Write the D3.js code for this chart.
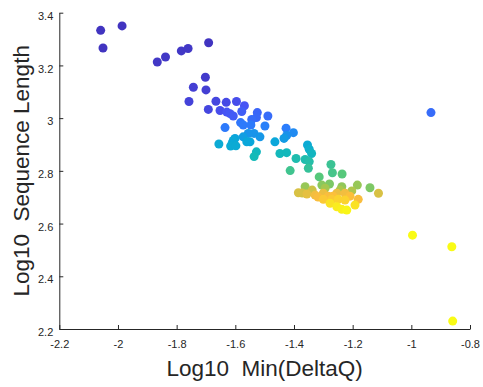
<!DOCTYPE html>
<html>
<head>
<meta charset="utf-8">
<script src="https://cdnjs.cloudflare.com/ajax/libs/d3/7.8.5/d3.min.js"></script>
<style>
  body { margin: 0; background: #fff; }
  svg { display: block; }
  text { font-family: "Liberation Sans", Arial, Helvetica, sans-serif; }
  .title { white-space: pre; }
</style>
</head>
<body>
<svg id="chart" width="483" height="387"></svg>
<script>
// log10 min(deltaQ), log10 sequence length, colour value (0..1 on the parula map)
const logDeltaQ = [
  -2.059, -1.986, -2.051, -1.866, -1.838, -1.784, -1.761, -1.691, -1.702, -1.743,
  -1.700, -1.758, -1.666, -1.692, -1.631, -1.596, -1.569, -1.652, -1.629, -1.618,
  -1.607, -1.578, -1.525, -1.528, -1.489, -1.544, -1.582, -1.573, -1.635, -1.547,
  -1.499, -1.536, -1.556, -1.573, -1.601, -1.607, -1.516, -1.550, -1.656, -1.616,
  -1.598, -1.561, -1.528, -1.536, -1.465, -1.427, -1.402, -1.425, -1.434, -1.448,
  -1.425, -1.393, -1.354, -1.348, -1.340, -1.362, -1.348, -1.351, -1.413, -1.274,
  -1.269, -1.236, -1.314, -1.305, -1.279, -1.294, -1.362, -1.237, -1.203, -1.184,
  -1.141, -1.112, -1.385, -1.356, -1.328, -1.300, -1.283, -1.254, -1.226, -1.209,
  -1.300, -1.271, -1.249, -1.226, -1.181, -1.192, -1.277, -1.254, -1.237, -1.220,
  -0.933, -0.996, -0.862, -0.859, -1.611, -1.338, -1.318, -1.243, -1.267, -1.372
];
const logSeqLength = [
  3.333, 3.350, 3.266, 3.213, 3.232, 3.255, 3.264, 3.286, 3.155, 3.117,
  3.107, 3.063, 3.064, 3.033, 3.060, 3.063, 3.047, 3.029, 3.023, 3.017,
  3.008, 3.025, 3.021, 3.002, 3.008, 2.995, 2.983, 2.974, 2.964, 2.974,
  2.970, 2.942, 2.942, 2.929, 2.923, 2.915, 2.929, 2.910, 2.902, 2.894,
  2.895, 2.910, 2.872, 2.854, 2.910, 2.962, 2.945, 2.934, 2.923, 2.866,
  2.869, 2.847, 2.898, 2.882, 2.866, 2.843, 2.835, 2.810, 2.801, 2.824,
  2.793, 2.788, 2.777, 2.746, 2.750, 2.734, 2.740, 2.740, 2.724, 2.746,
  2.736, 2.715, 2.717, 2.712, 2.708, 2.715, 2.704, 2.715, 2.715, 2.704,
  2.692, 2.692, 2.692, 2.689, 2.692, 2.670, 2.677, 2.664, 2.654, 2.651,
  3.021, 2.556, 2.512, 2.230, 2.904, 2.727, 2.701, 2.727, 2.704, 2.716
];
const colourValue = [
  0.04, 0.04, 0.04, 0.05, 0.05, 0.05, 0.05, 0.04, 0.06, 0.07,
  0.07, 0.08, 0.09, 0.09, 0.10, 0.11, 0.13, 0.11, 0.13, 0.14,
  0.15, 0.16, 0.18, 0.19, 0.20, 0.20, 0.23, 0.24, 0.24, 0.24,
  0.26, 0.32, 0.32, 0.35, 0.37, 0.39, 0.33, 0.38, 0.40, 0.40,
  0.40, 0.38, 0.48, 0.50, 0.38, 0.25, 0.29, 0.31, 0.34, 0.49,
  0.49, 0.52, 0.40, 0.43, 0.47, 0.52, 0.53, 0.56, 0.58, 0.57,
  0.59, 0.62, 0.62, 0.70, 0.68, 0.74, 0.72, 0.71, 0.76, 0.72,
  0.68, 0.82, 0.82, 0.84, 0.86, 0.85, 0.87, 0.85, 0.86, 0.88,
  0.90, 0.90, 0.92, 0.92, 0.87, 0.95, 0.95, 0.97, 0.98, 0.99,
  0.20, 1.00, 1.00, 1.00, 0.39, 0.80, 0.87, 0.75, 0.88, 0.81
];

const xTicks = [-2.2, -2, -1.8, -1.6, -1.4, -1.2, -1, -0.8];
const xTickLabels = ["-2.2", "-2", "-1.8", "-1.6", "-1.4", "-1.2", "-1", "-0.8"];
const yTicks = [2.2, 2.4, 2.6, 2.8, 3, 3.2, 3.4];
const yTickLabels = ["2.2", "2.4", "2.6", "2.8", "3", "3.2", "3.4"];

const parulaStops = ["#3e26a8", "#4852f4", "#2b7dfc", "#0aa6db", "#14bab8",
                     "#59c978", "#abc74d", "#fcbd3d", "#f9fb15"];

const svg = d3.select("#chart");
const ink = "#262626";

const margin = { left: 59.3, right: 13, top: 12.7, bottom: 58 };
const width = 483, height = 387;

const x = d3.scaleLinear().domain([-2.2, -0.8]).range([margin.left, width - margin.right]);
const y = d3.scaleLinear().domain([2.2, 3.4]).range([height - margin.bottom, margin.top]);
const colour = d3.scaleLinear()
  .domain(parulaStops.map((d, i) => i / (parulaStops.length - 1)))
  .range(parulaStops)
  .interpolate(d3.interpolateRgb);

const points = logDeltaQ.map((d, i) => ({ x: d, y: logSeqLength[i], c: colourValue[i] }))
  .sort((a, b) => a.c - b.c);

svg.append("g")
  .selectAll("circle")
  .data(points)
  .join("circle")
  .attr("cx", d => x(d.x))
  .attr("cy", d => y(d.y))
  .attr("r", 4.5)
  .attr("fill", d => colour(d.c));

const xAxis = svg.append("g")
  .attr("transform", `translate(0,${y(2.2)})`)
  .call(d3.axisBottom(x).tickValues(xTicks)
    .tickFormat((d, i) => xTickLabels[i])
    .tickSizeInner(-4).tickSizeOuter(0).tickPadding(11));

const yAxis = svg.append("g")
  .attr("transform", `translate(${x(-2.2)},0)`)
  .call(d3.axisLeft(y).tickValues(yTicks)
    .tickFormat((d, i) => yTickLabels[i])
    .tickSizeInner(-4).tickSizeOuter(0).tickPadding(6));

[xAxis, yAxis].forEach(g => {
  g.select(".domain").attr("stroke", ink).attr("stroke-width", 1);
  g.selectAll(".tick line").attr("stroke", ink);
  g.selectAll(".tick text").attr("fill", ink).attr("font-size", 11)
    .attr("font-family", "Liberation Sans, Arial, sans-serif");
});
yAxis.selectAll(".tick text").attr("dy", "0.6em");

svg.append("text")
  .attr("class", "title")
  .attr("x", (x(-2.2) + x(-0.8)) / 2)
  .attr("y", 376)
  .attr("text-anchor", "middle")
  .attr("font-size", 22.5)
  .attr("fill", ink)
  .text("Log10  Min(DeltaQ)");

svg.append("text")
  .attr("class", "title")
  .attr("transform", `translate(29,${(y(2.2) + y(3.4)) / 2}) rotate(-90)`)
  .attr("text-anchor", "middle")
  .attr("font-size", 22.5)
  .attr("fill", ink)
  .text("Log10  Sequence Length");
</script>
</body>
</html>
